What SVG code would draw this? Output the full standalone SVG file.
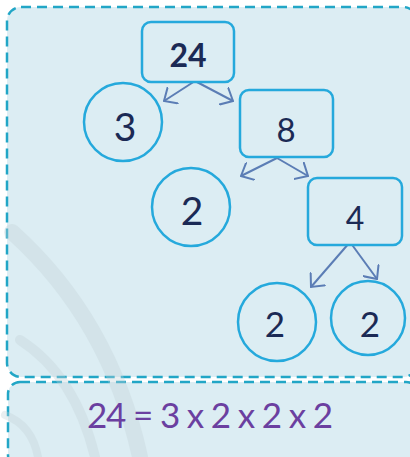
<svg xmlns="http://www.w3.org/2000/svg" width="410" height="457" viewBox="0 0 410 457">
<defs>
<style>
.panel{fill:#dcedf3;stroke:#22a6c6;stroke-width:2.5;stroke-dasharray:10 6}
.node{fill:#dcedf3;stroke:#25a9dc;stroke-width:2.5}
.num{font-family:Lato,"Open Sans",sans-serif;fill:#1b2a55;text-anchor:middle}
.conn{stroke:#5b7db5;stroke-width:2;fill:none;marker-end:url(#arr)}
.wm{fill:none;stroke:#c3d3d8;stroke-linecap:round}
</style>
<marker id="arr" viewBox="0 0 12 20" refX="11" refY="10" markerWidth="12" markerHeight="20" markerUnits="userSpaceOnUse" orient="auto">
<path d="M0,0 L11,10 L0,20" fill="none" stroke="#5b7db5" stroke-width="2"/>
</marker>
</defs>
<rect x="0" y="0" width="410" height="457" fill="#ffffff"/>
<g id="panel-tree">
<rect class="panel" x="7" y="7" width="410" height="370" rx="14"/>
</g>
<g id="panel-equation">
<rect class="panel" x="8" y="382" width="410" height="85" rx="12"/>
</g>
<g id="watermark" opacity="0.35">
<path class="wm" d="M12 232 Q110 320 140 457" stroke-width="16"/>
<path class="wm" d="M20 340 Q75 375 95 457" stroke-width="10"/>
<path class="wm" d="M5 415 Q32 425 38 457" stroke-width="8"/>
</g>
<g id="connectors">
<line class="conn" x1="195" y1="81" x2="164" y2="101"/>
<line class="conn" x1="195" y1="81" x2="233" y2="101"/>
<line class="conn" x1="277" y1="158" x2="241" y2="176"/>
<line class="conn" x1="277" y1="158" x2="308" y2="176"/>
<line class="conn" x1="350" y1="242" x2="311" y2="287"/>
<line class="conn" x1="350" y1="242" x2="377" y2="279"/>
</g>
<g id="node-24">
<rect class="node" x="142" y="22" width="92" height="60" rx="9"/>
<text class="num" x="188" y="67" font-size="32" font-weight="bold">24</text>
</g>
<g id="node-3">
<circle class="node" cx="123" cy="122" r="39"/>
<text class="num" x="125" y="141" font-size="39">3</text>
</g>
<g id="node-8">
<rect class="node" x="240" y="90" width="93" height="67" rx="9"/>
<text class="num" x="286" y="142" font-size="33">8</text>
</g>
<g id="node-2a">
<circle class="node" cx="191" cy="207" r="39"/>
<text class="num" x="192" y="225" font-size="39">2</text>
</g>
<g id="node-4">
<rect class="node" x="308" y="178" width="94" height="67" rx="9"/>
<text class="num" x="355" y="230" font-size="32">4</text>
</g>
<g id="node-2b">
<circle class="node" cx="277" cy="322" r="39"/>
<text class="num" x="275" y="337" font-size="35">2</text>
</g>
<g id="node-2c">
<circle class="node" cx="368" cy="318" r="37"/>
<text class="num" x="370" y="337" font-size="35">2</text>
</g>
<g id="equation">
<text x="210" y="428" font-family="Lato,'Open Sans',sans-serif" font-size="35" fill="#6b3fa0" text-anchor="middle" textLength="246" lengthAdjust="spacing">24 = 3 x 2 x 2 x 2</text>
</g>
</svg>
